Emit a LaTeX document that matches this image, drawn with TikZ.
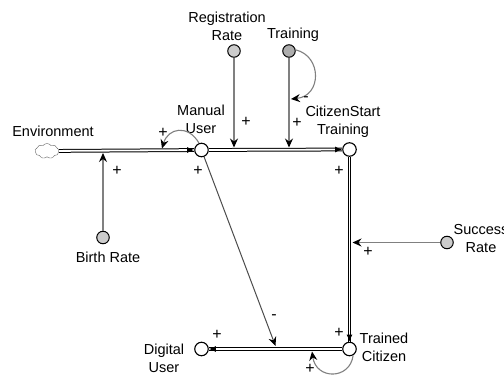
\documentclass[tikz,border=0pt]{standalone}
\usepackage{fontspec}
\setmainfont{Liberation Sans}
\usetikzlibrary{arrows.meta,shapes.symbols}
\begin{document}
\begin{tikzpicture}[x=1pt,y=-1pt,font=\fontsize{14.5}{18}\selectfont,
  stock/.style={circle,draw,fill=white,minimum size=13.5pt,inner sep=0pt,line width=1.1pt},
  rate/.style={circle,draw,fill=black!20,minimum size=12.5pt,inner sep=0pt,line width=1pt},
  lbl/.style={align=center,inner sep=0pt},
  sgn/.style={inner sep=0pt,font=\fontsize{16}{16}\selectfont},
  flow/.style={double,double distance=1.8pt,line width=1pt},
  flowtip/.style={line width=1pt,-{Latex[length=7pt,width=6pt]}},
  conn/.style={draw=black!50,line width=1.1pt,-{Stealth[black,length=9pt,width=8pt,inset=3pt]}},
  dconn/.style={draw=black!70,line width=1pt,-{Stealth[black,length=9pt,width=8pt,inset=3pt]}}]
\useasboundingbox (0,0) rectangle (504,378);
% stocks / circles
\node[cloud,cloud puffs=9,cloud puff arc=110,draw=black!60,fill=white,minimum width=24pt,minimum height=15pt,inner sep=0pt,aspect=1.6] (cloud) at (47,151) {};
\node[stock] (mu) at (201.5,150) {};
\node[stock] (cs) at (349.5,149.5) {};
\node[stock] (tc) at (349.5,349) {};
\node[stock] (du) at (201.5,349) {};
\node[rate] (rr) at (234,51) {};
\node[rate,fill=black!32] (tr) at (289,51) {};
\node[rate] (br) at (103,237.5) {};
\node[rate] (sr) at (447,242.5) {};
% labels
\node[lbl] (envl) at (53,131) {Environment};
\node[lbl] (mul) at (201,119) {Manual\\User};
\node[lbl] (csl) at (343,122) {CitizenStart\\Training};
\node[lbl] (tcl) at (384,347) {Trained\\Citizen};
\node[lbl] (dul) at (164,358) {Digital\\User};
\node[lbl] (rrl) at (227,26) {Registration\\Rate};
\node[lbl] (trl) at (293,35) {Training};
\node[lbl] (brl) at (108,257) {Birth Rate};
\node[lbl] (srl) at (481,239) {Success\\Rate};
% flows
\draw[flow] (cloud) -- (mu);
\draw[flowtip] ([xshift=-7pt]mu.west) -- (mu.west);
\draw[flow] (mu) -- (cs);
\draw[flowtip] ([xshift=-7pt]cs.west) -- (cs.west);
\draw[flow] (cs) -- (tc);
\draw[flowtip] ([yshift=7pt]tc.north) -- (tc.north);
\draw[flow] (tc) -- (du);
\draw[flowtip] ([xshift=7pt]du.east) -- (du.east);
% points on flows
\coordinate (pbr) at (103,153);
\coordinate (prr) at (234,147.5);
\coordinate (ptr) at (289,147.5);
\coordinate (psr) at (352.5,242.5);
\coordinate (pdu) at (275.5,346);
\coordinate (pmu) at (162,148.5);
\coordinate (ptrm) at (291,99);
\coordinate (ptc) at (312,351.5);
% connectors
\draw[conn] (br) -- (pbr);
\draw[conn] (rr) -- (prr);
\draw[conn] (tr) -- (ptr);
\draw[conn] (sr) -- (psr);
\draw[dconn] (mu) -- (pdu);
\draw[conn] (mu.110) .. controls (188,124) and (168,128) .. (pmu);
\draw[conn] (tr.10) .. controls (322,56) and (322,96) .. (ptrm);
\draw[conn] (tc.-60) .. controls (350,380) and (316,380) .. (ptc);
% signs
\node[sgn] (s1) at (163,133) {+};
\node[sgn] (s2) at (117,171) {+};
\node[sgn] (s3) at (198,171) {+};
\node[sgn] (s4) at (246,122) {+};
\node[sgn] (s5) at (297,123) {+};
\node[sgn] (s6) at (306,99) {-};
\node[sgn] (s7) at (339,171) {+};
\node[sgn] (s8) at (368,252) {+};
\node[sgn] (s9) at (217,335) {+};
\node[sgn] (s10) at (274,317) {-};
\node[sgn] (s11) at (339,333) {+};
\node[sgn] (s12) at (310,369) {+};
\end{tikzpicture}
\end{document}
